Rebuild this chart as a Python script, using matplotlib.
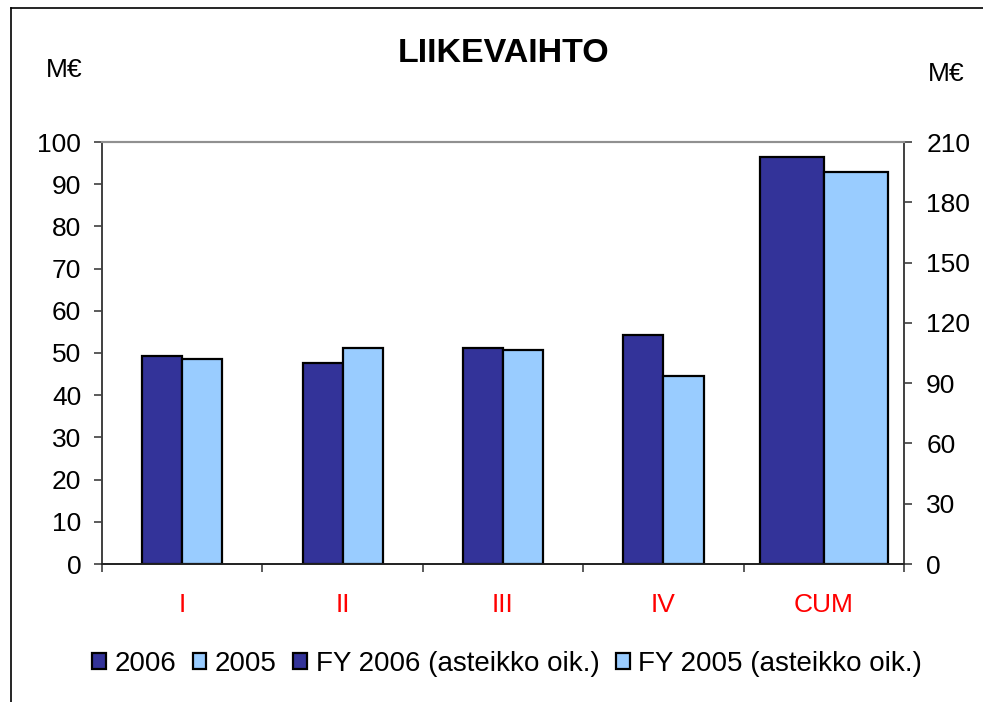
import matplotlib
matplotlib.use('Agg')
import matplotlib.pyplot as plt
from matplotlib.lines import Line2D
from matplotlib.patches import Patch
import numpy as np

plt.rcParams['font.family'] = ['Liberation Sans', 'DejaVu Sans']

# data
quarters = ['I', 'II', 'III', 'IV']
categories = ['I', 'II', 'III', 'IV', 'CUM']
sales_2006 = [49.3, 47.7, 51.2, 54.3]
sales_2005 = [48.6, 51.2, 50.6, 44.6]
fy_2006 = 202.5
fy_2005 = 195.0

dark = '#333399'
light = '#99CCFF'

fig = plt.figure(figsize=(9.83, 7.02), dpi=100)
ax = fig.add_axes([102 / 983, 1 - 564 / 702, 802 / 983, 422 / 702])
ax2 = ax.twinx()

x = np.arange(len(quarters))
w = 0.25
ax.bar(x - w / 2, sales_2006, w, color=dark, edgecolor='black', linewidth=1.6)
ax.bar(x + w / 2, sales_2005, w, color=light, edgecolor='black', linewidth=1.6)

w2 = 0.4
ax2.bar(4 - w2 / 2, fy_2006, w2, color=dark, edgecolor='black', linewidth=1.6)
ax2.bar(4 + w2 / 2, fy_2005, w2, color=light, edgecolor='black', linewidth=1.6)

ax.set_xlim(-0.5, 4.5)
ax.set_ylim(0, 100)
ax2.set_ylim(0, 210)
ax.set_yticks(range(0, 101, 10))
ax2.set_yticks(range(0, 211, 30))

ax.set_xticks(range(len(categories)))
ax.set_xticklabels(categories, color='red', fontsize=19)
ax.tick_params(axis='x', which='major', length=0, pad=21)
ax.set_xticks(np.arange(-0.5, 4.6, 1), minor=True)
ax.tick_params(axis='x', which='minor', length=6, width=1.2, color='#404040')

ax.tick_params(axis='y', labelsize=19, length=6, width=1.2, color='#404040', pad=9)
ax2.tick_params(axis='y', labelsize=19, length=6, width=1.2, color='#404040', pad=10)

for a in (ax, ax2):
    a.spines['top'].set_color('#909090')
    a.spines['top'].set_linewidth(1.5)
    a.spines['left'].set_color('#404040')
    a.spines['right'].set_color('#404040')
    a.spines['bottom'].set_color('#202020')
    for s in ('left', 'right', 'bottom'):
        a.spines[s].set_linewidth(1.2)

fig.text(504 / 983, 1 - 54 / 702, 'LIIKEVAIHTO', fontsize=24.5, fontweight='bold',
         ha='center', va='center')
fig.text(64 / 983, 1 - 70 / 702, 'M€', fontsize=19, ha='center', va='center')
fig.text(946 / 983, 1 - 74 / 702, 'M€', fontsize=19, ha='center', va='center')

handles = [
    Patch(facecolor=dark, edgecolor='black', linewidth=1.6),
    Patch(facecolor=light, edgecolor='black', linewidth=1.6),
    Patch(facecolor=dark, edgecolor='black', linewidth=1.6),
    Patch(facecolor=light, edgecolor='black', linewidth=1.6),
]
labels = ['2006', '2005', 'FY 2006 (asteikko oik.)', 'FY 2005 (asteikko oik.)']
fig.legend(handles, labels, loc='center', bbox_to_anchor=(507 / 983, 1 - 664 / 702),
           ncol=4, frameon=False, fontsize=20, handlelength=0.5, handleheight=0.5,
           handletextpad=0.3, columnspacing=0.6)

# chart border
fig.add_artist(Line2D([11 / 983, 11 / 983], [0, 1 - 8 / 702], color='black', linewidth=1.2))
fig.add_artist(Line2D([11 / 983, 1], [1 - 8 / 702, 1 - 8 / 702], color='black', linewidth=1.2))

fig.savefig('out.png', dpi=100)
